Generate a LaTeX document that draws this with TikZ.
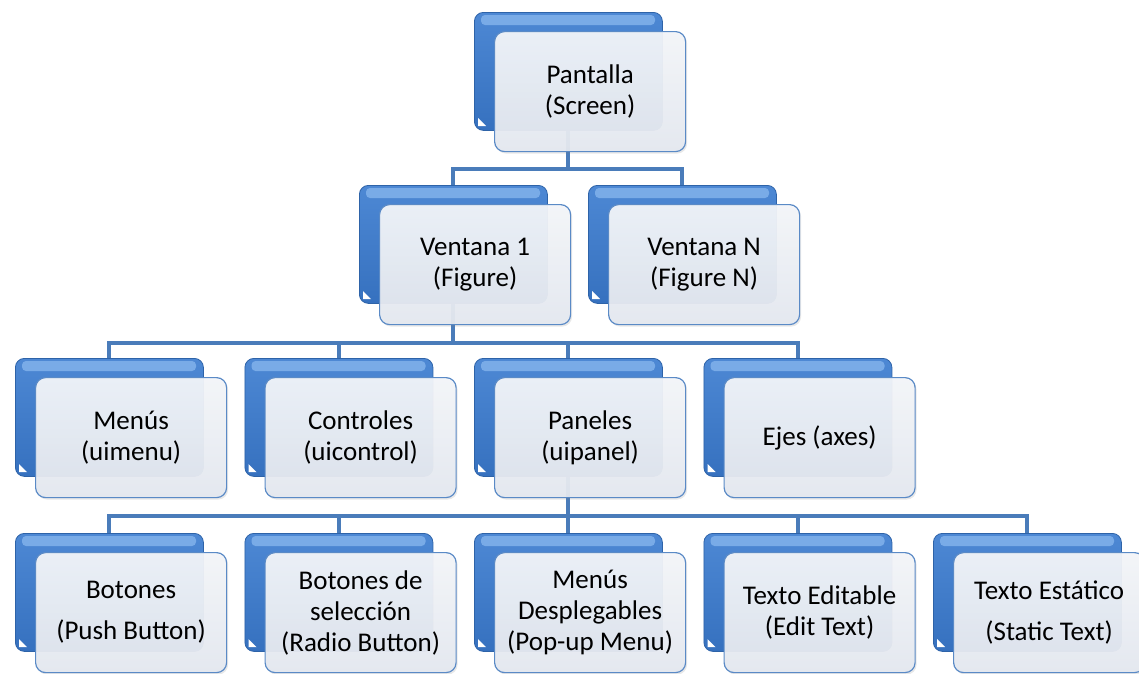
\documentclass[tikz,border=0pt]{standalone}
\usepackage{fontspec}
\setmainfont{Carlito}
\usetikzlibrary{calc,shadows}
\definecolor{bluedk}{HTML}{2E63A8}
\definecolor{bluelt}{HTML}{4D88D4}
\definecolor{bluemd}{HTML}{3671BF}
\definecolor{bluehi}{HTML}{8DBBF0}
\definecolor{frontline}{HTML}{5A8AC6}
\definecolor{frontlt}{HTML}{F3F5F9}
\definecolor{frontdk}{HTML}{E4E8EF}
\definecolor{connc}{HTML}{4A7CBA}
\newcommand\backbox[3]{%
  \node[backbox] (b#1) at (#2,#3) {};
  \fill[bluehi, opacity=0.7, rounded corners=4pt] ($(#2,#3)+(7,3)$) rectangle ($(#2,#3)+(181,13)$);
  \fill[white] ($(#2,#3)+(4,106)$) -- ($(#2,#3)+(4,114)$) -- ($(#2,#3)+(12,114)$) -- cycle;
}
\newcommand\frontbox[4]{%
  \node[frontbox] (f#1) at ($(#2,#3)+(20,19)$) {#4};
}
\begin{document}
\begin{tikzpicture}[x=1pt,y=-1pt,
  backbox/.style={anchor=north west, minimum width=188pt, minimum height=118pt, inner sep=0pt,
    rounded corners=9pt, draw=bluedk, line width=0.8pt, top color=bluelt, bottom color=bluemd},
  frontbox/.style={anchor=north west, minimum width=191pt, minimum height=120pt, inner sep=0pt,
    rounded corners=10pt, draw=frontline, line width=1.2pt, top color=frontlt, bottom color=frontdk,
    fill opacity=0.95, text opacity=1, align=center, font=\fontsize{27}{31}\selectfont,
    drop shadow={opacity=0.18, shadow xshift=1.5pt, shadow yshift=-2pt}},
  conn/.style={draw=connc, line width=4pt, line join=miter}]
\useasboundingbox (0,0) rectangle (1139,673);
% back boxes
\backbox{t}{474}{12}
\backbox{vone}{359}{185}
\backbox{vn}{588}{185}
\backbox{m}{15}{358}
\backbox{c}{244.5}{358}
\backbox{p}{474}{358}
\backbox{e}{703.5}{358}
\backbox{a}{15}{533}
\backbox{bs}{244.5}{533}
\backbox{md}{474}{533}
\backbox{te}{703.5}{533}
\backbox{ts}{933}{533}
% connectors
\coordinate (j1) at ($(bt.south)+(0,38)$);
\draw[conn] (bt.south) -- (j1) -| (bvone.north);
\draw[conn] (j1) -| (bvn.north);
\coordinate (j2) at ($(bvone.south)+(0,39)$);
\draw[conn] (bvone.south) -- (j2) -| (bm.north);
\draw[conn] (j2) -| (bc.north);
\draw[conn] (j2) -| (bp.north);
\draw[conn] (j2) -| (be.north);
\coordinate (j3) at ($(bp.south)+(0,39)$);
\draw[conn] (bp.south) -- (j3) -| (ba.north);
\draw[conn] (j3) -| (bbs.north);
\draw[conn] (j3) -| (bmd.north);
\draw[conn] (j3) -| (bte.north);
\draw[conn] (j3) -| (bts.north);
% front boxes
\frontbox{t}{474}{12}{Pantalla\\(Screen)}
\frontbox{vone}{359}{185}{Ventana 1\\(Figure)}
\frontbox{vn}{588}{185}{Ventana N\\(Figure N)}
\frontbox{m}{15}{358}{Menús\\(uimenu)}
\frontbox{c}{244.5}{358}{Controles\\(uicontrol)}
\frontbox{p}{474}{358}{Paneles\\(uipanel)}
\frontbox{e}{703.5}{358}{Ejes (axes)}
\frontbox{a}{15}{533}{Botones\\[10pt](Push Button)}
\frontbox{bs}{244.5}{533}{Botones de\\selección\\(Radio Button)}
\frontbox{md}{474}{533}{Menús\\Desplegables\\(Pop-up Menu)}
\frontbox{te}{703.5}{533}{Texto Editable\\(Edit Text)}
\frontbox{ts}{933}{533}{Texto Estático\\[10pt](Static Text)}
\end{tikzpicture}
\end{document}
